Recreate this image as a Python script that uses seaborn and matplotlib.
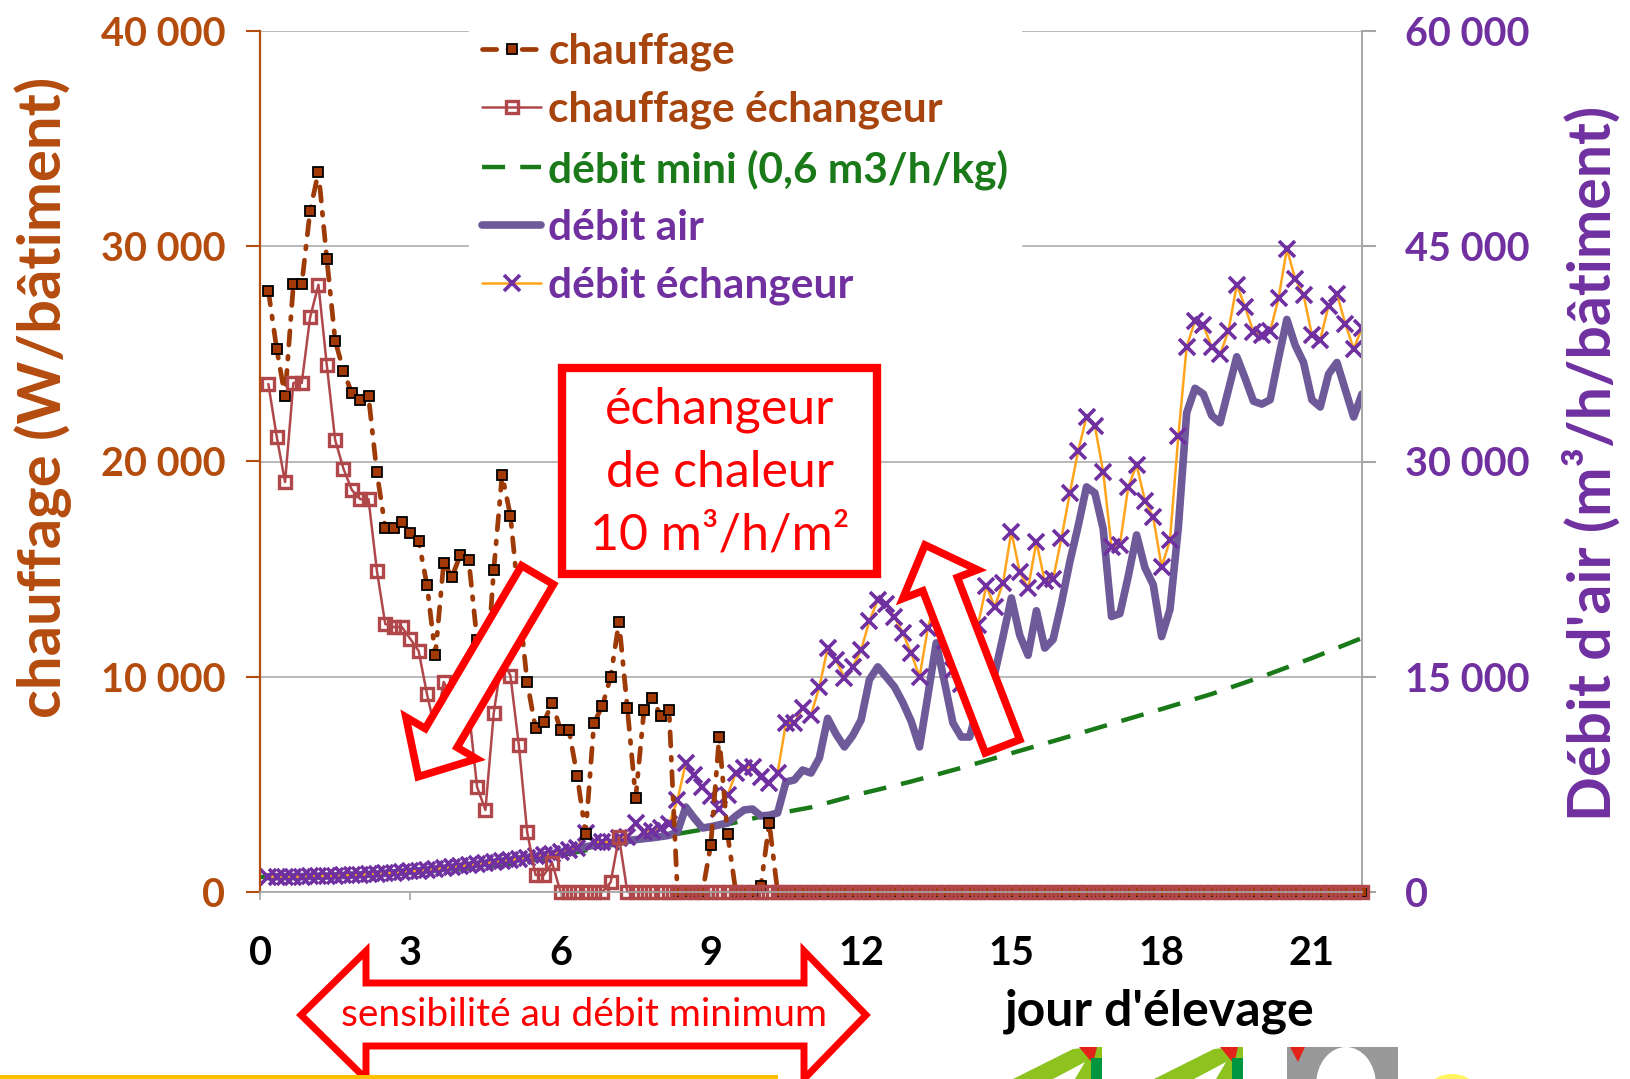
import numpy as np
import matplotlib
matplotlib.use("Agg")
import matplotlib.pyplot as plt
import matplotlib.patches as mpatches
from matplotlib.transforms import Affine2D
import seaborn as sns

# ── Données : un point toutes les 4 h ─────────────────────────────────
PAS_HEURES = 4
N_POINTS = 132
jours = np.arange(1, N_POINTS + 1) * PAS_HEURES / 24

chauffage = [
    27930, 25230, 23020, 28240, 28240, 31640, 33460, 29430, 25620, 24210,
    23170, 22860, 23020, 19490, 16930, 16930, 17210, 16700, 16310, 14270,
    11010, 15290, 14650, 15660, 15430, 11700, 9450, 14960, 19380, 17470,
    13500, 9760, 7620, 7900, 8780, 7530, 7530, 5390, 2700, 7850,
    8640, 9990, 12550, 8550, 4370, 8460, 9010, 8180, 8460, 0,
    0, 0, 0, 2200, 7200, 2700, 0, 0, 0, 300,
    3200, 0, 0, 0, 0, 0, 0, 0, 0, 0,
] + [0] * 62

chauffage_ech = [
    23600, 21160, 19050, 23650, 23650, 26690, 28210, 24490, 21000, 19660,
    18680, 18250, 18250, 14930, 12450, 12310, 12310, 11760, 11200, 9200,
    7500, 9760, 9000, 9500, 8500, 4880, 3810, 8320, 10900, 10040,
    6830, 2790, 790, 790, 1350, 0, 0, 0, 0, 0,
    0, 450, 2560, 0, 0, 0, 0, 0, 0, 0,
] + [0] * 82

debit_ech = [
    1070, 1070, 1070, 1080, 1080, 1090, 1100, 1110, 1130, 1150,
    1170, 1200, 1230, 1260, 1300, 1340, 1380, 1430, 1480, 1540,
    1600, 1660, 1720, 1790, 1860, 1930, 2000, 2070, 2150, 2230,
    2310, 2390, 2480, 2570, 2660, 2760, 2900, 3050, 4110, 3490,
    3490, 3490, 3760, 3830, 4810, 4180, 4250, 4460, 4740, 6410,
    8990, 8150, 7320, 6690, 5780, 6760, 8290, 8640, 8710, 8010,
    7600, 8290, 11780, 11780, 12820, 12340, 14290, 17010, 16170, 14920,
    15690, 16870, 18890, 20350, 20070, 19170, 18050, 16660, 14990, 18400,
    20500, 17500, 15500, 14500, 15000, 18610, 21330, 19860, 21540, 25120,
    22300, 21150, 24400, 21650, 21800, 24670, 27780, 30740, 33110, 32500,
    29270, 24050, 24190, 28230, 29760, 27280, 26100, 22650, 24530, 31780,
    38000, 39800, 39480, 37990, 37460, 39100, 42310, 40770, 39000, 38820,
    39100, 41360, 44820, 42730, 41610, 38820, 38500, 40870, 41680, 39590,
    37850, 39300,
]

debit_air = [
    1070, 1070, 1070, 1080, 1080, 1090, 1100, 1110, 1130, 1150,
    1170, 1200, 1230, 1260, 1300, 1340, 1380, 1430, 1480, 1540,
    1600, 1660, 1720, 1790, 1860, 1930, 2000, 2070, 2150, 2230,
    2310, 2390, 2480, 2570, 2660, 2760, 2900, 3050, 3150, 3250,
    3330, 3420, 3500, 3580, 3650, 3720, 3780, 3860, 3950, 4180,
    5920, 5160, 4460, 4550, 4680, 4810, 5300, 5720, 5780, 5300,
    5350, 5510, 7670, 7810, 8500, 8290, 9340, 12100, 11000, 10110,
    10900, 11990, 14800, 15690, 15000, 14290, 13200, 11900, 10110, 13700,
    17360, 14600, 11780, 10800, 10800, 13000, 14700, 15200, 17800, 20490,
    17900, 16500, 19600, 17000, 17600, 20140, 23000, 25500, 28230, 27810,
    25300, 19200, 19400, 22000, 24880, 22600, 21400, 17800, 19700, 25400,
    33400, 35100, 34700, 33200, 32700, 35000, 37300, 35800, 34200, 34000,
    34300, 37200, 39900, 38100, 36900, 34300, 33800, 36100, 36900, 35000,
    33100, 34700,
]

jours_mini = list(range(0, 23))
debit_mini = [1050, 1070, 1150, 1330, 1600, 1950, 2550, 3250, 3850, 4450,
              5250, 5900, 6850, 7700, 8650, 9670, 10680, 11720, 12750,
              13800, 15000, 16300, 17700]

x_ticks = [0, 3, 6, 9, 12, 15, 18, 21]
y_ticks_g = [0, 10000, 20000, 30000, 40000]
y_labels_g = ['0', '10 000', '20 000', '30 000', '40 000']
y_ticks_d = [0, 15000, 30000, 45000, 60000]
y_labels_d = ['0', '15 000', '30 000', '45 000', '60 000']

# ── Couleurs ───────────────────────────────────────────────────────────
BRUN = '#B44C0E'
BRUN_TXT = '#A8440E'
BRUN_LIGNE = '#9E3A06'
ROUGE_ECH = '#B0474A'
VERT = '#1A7A1A'
VIOLET = '#7030A0'
VIOLET_LIGNE = '#6F5A99'
ORANGE = '#FFA41B'
GRIS = '#A6A6A6'
ROUGE = '#FF0000'

sns.set_style("white")
plt.rcParams['font.family'] = ['Lato', 'DejaVu Sans']

W, H = 1630, 1079
fig = plt.figure(figsize=(W / 100, H / 100), dpi=100)
px = Affine2D().scale(1 / W, -1 / H).translate(0, 1) + fig.transFigure

ax = fig.add_axes([260 / W, 1 - 892 / H, 1102 / W, 861 / H])
ax2 = ax.twinx()
ax.set_zorder(ax2.get_zorder() + 1)
ax.patch.set_visible(False)

# ── Axe droit : débits ─────────────────────────────────────────────────
sns.lineplot(x=jours_mini, y=debit_mini, ax=ax2, color=VERT, lw=3.2,
             errorbar=None, legend=False)
l_mini = ax2.get_lines()[-1]
l_mini.set_dashes((5.2, 3.4))

sns.lineplot(x=jours, y=debit_air, ax=ax2, color=VIOLET_LIGNE, lw=5.5,
             errorbar=None, legend=False)
l_air = ax2.get_lines()[-1]
l_air.set_solid_joinstyle('round')

sns.lineplot(x=jours, y=debit_ech, ax=ax2, color=ORANGE, lw=1.8,
             marker='x', markersize=12, markeredgewidth=2.6,
             markeredgecolor=VIOLET, errorbar=None, legend=False)
l_ech = ax2.get_lines()[-1]

# ── Axe gauche : chauffage ─────────────────────────────────────────────
sns.lineplot(x=jours, y=chauffage, ax=ax, color=BRUN_LIGNE, lw=3.4,
             marker='s', markersize=7.2, markerfacecolor='#A33A05',
             markeredgecolor='black', markeredgewidth=1.3,
             errorbar=None, legend=False, clip_on=False)
l_ch = ax.get_lines()[-1]
l_ch.set_dashes((3.0, 2.4, 0.6, 2.4))
l_ch.set_dash_capstyle('round')

sns.lineplot(x=jours, y=chauffage_ech, ax=ax, color=ROUGE_ECH, lw=1.8,
             marker='s', markersize=8.5, markerfacecolor='none',
             markeredgecolor=ROUGE_ECH, markeredgewidth=2.4,
             errorbar=None, legend=False, clip_on=False)
l_chech = ax.get_lines()[-1]

# ── Axes, graduations ──────────────────────────────────────────────────
ax.set_xlim(0, 22)
ax.set_ylim(0, 40000)
ax2.set_ylim(0, 60000)
ax.set_xticks(x_ticks, labels=[str(t) for t in x_ticks],
              fontsize=28.5, fontweight='bold')
ax.set_yticks(y_ticks_g, labels=y_labels_g, fontsize=28.5, fontweight='bold')
ax2.set_yticks(y_ticks_d, labels=y_labels_d, fontsize=28.5, fontweight='bold')
ax.grid(False)
ax2.grid(False)
ax2.yaxis.grid(True, color=GRIS, lw=1.1)

ax.tick_params(axis='y', direction='out', length=10, width=1.5,
               color=BRUN, labelcolor=BRUN, pad=15, left=True)
ax.tick_params(axis='x', direction='out', length=6, width=1.2,
               color=GRIS, labelcolor='black', pad=25, bottom=True)
ax2.tick_params(axis='y', direction='out', length=10, width=1.5,
                color=GRIS, labelcolor=VIOLET, pad=21, right=True)

for s in ['top', 'right']:
    ax.spines[s].set_visible(False)
for s in ['top', 'left', 'bottom']:
    ax2.spines[s].set_visible(False)
ax.spines['left'].set_color(BRUN)
ax.spines['left'].set_linewidth(1.6)
ax.spines['bottom'].set_color(GRIS)
ax.spines['bottom'].set_linewidth(1.2)
ax2.spines['right'].set_color(GRIS)
ax2.spines['right'].set_linewidth(1.4)

ax.set_ylabel('chauffage (W/bâtiment)', fontsize=43, fontweight='bold',
              color=BRUN)
ax.yaxis.set_label_coords(-0.197, 0.575)
ax.yaxis.label.set_va('center')
ax2.set_ylabel("Débit d'air (m³/h/bâtiment)", fontsize=42.5,
               fontweight='bold', color=VIOLET, rotation=90)
ax2.yaxis.set_label_coords(1.208, 0.498)
ax2.yaxis.label.set_va('center')
ax.set_xlabel("jour d'élevage", fontsize=36, fontweight='bold',
              color='black')
ax.xaxis.set_label_coords(0.816, -0.112)

# ── Légende ────────────────────────────────────────────────────────────
leg = ax.legend(
    handles=[l_ch, l_chech, l_mini, l_air, l_ech],
    labels=['chauffage', 'chauffage échangeur', 'débit mini (0,6 m3/h/kg)',
            'débit air', 'débit échangeur'],
    loc='upper left', bbox_to_anchor=(448, -1), bbox_transform=px,
    prop={'size': 30.5, 'weight': 'bold'}, handlelength=1.4,
    handletextpad=0.17, labelspacing=0.46, borderpad=0.3, numpoints=1,
    frameon=True, fancybox=False, framealpha=1, edgecolor='white',
    facecolor='white',
    labelcolor=[BRUN_TXT, BRUN_TXT, VERT, VIOLET, VIOLET])

# ── Annotations ────────────────────────────────────────────────────────
fig.patches.append(mpatches.Rectangle(
    (562, 368), 315, 206, transform=px, fc='white', ec=ROUGE, lw=6))
for txt, yc in [('échangeur', 410), ('de chaleur', 473), ('10 m³/h/m²', 536)]:
    fig.text(720, yc, txt, transform=px, ha='center', va='center',
             fontsize=36, color=ROUGE)

fig.patches.append(mpatches.FancyArrow(
    537.5, 575, -119.2, 201.7, width=37, head_width=82, head_length=45,
    length_includes_head=True, transform=px, fc='white', ec=ROUGE, lw=5.5))
fig.patches.append(mpatches.FancyArrow(
    1002.5, 746.3, -77.5, -201.3, width=37, head_width=80, head_length=42,
    length_includes_head=True, transform=px, fc='white', ec=ROUGE, lw=5.5))

double_fleche = [(301, 1015), (366, 951), (366, 983), (804, 983), (804, 951),
                 (866, 1015), (804, 1079), (804, 1046), (366, 1046),
                 (366, 1079)]
fig.patches.append(mpatches.Polygon(
    double_fleche, closed=True, transform=px, fc='white', ec=ROUGE, lw=5))
fig.text(584, 1015, 'sensibilité au débit minimum', transform=px,
         ha='center', va='center', fontsize=28, color=ROUGE)

# bandeau jaune et logos rognés du diaporama
fig.patches.append(mpatches.Rectangle(
    (0, 1075), 778, 4, transform=px, fc='#FFC000', ec='none'))
for x0 in [1013, 1154]:
    fig.patches.append(mpatches.Polygon(
        [(x0, 1079), (x0 + 60, 1049), (x0 + 80, 1047), (x0 + 89, 1047),
         (x0 + 89, 1079), (x0 + 62, 1079), (x0 + 72, 1062), (x0 + 40, 1079)],
        closed=True, transform=px, fc='#8DC21F', ec='none'))
    fig.patches.append(mpatches.Polygon(
        [(x0 + 66, 1047), (x0 + 84, 1047), (x0 + 80, 1064)],
        closed=True, transform=px, fc='#E2231A', ec='none'))
    fig.patches.append(mpatches.Rectangle(
        (x0 + 78, 1058), 11, 21, transform=px, fc='#009640', ec='none'))
fig.patches.append(mpatches.Rectangle(
    (1287, 1047), 111, 32, transform=px, fc='#999999', ec='none'))
fig.patches.append(mpatches.Ellipse(
    (1346, 1085), 60, 76, transform=px, fc='white', ec='none'))
fig.patches.append(mpatches.Polygon(
    [(1290, 1047), (1305, 1047), (1298, 1062)],
    closed=True, transform=px, fc='#E2231A', ec='none'))
fig.patches.append(mpatches.Ellipse(
    (1452, 1092), 50, 36, transform=px, fc='#FFF45C', ec='none'))

fig.savefig('out.png', dpi=100)
